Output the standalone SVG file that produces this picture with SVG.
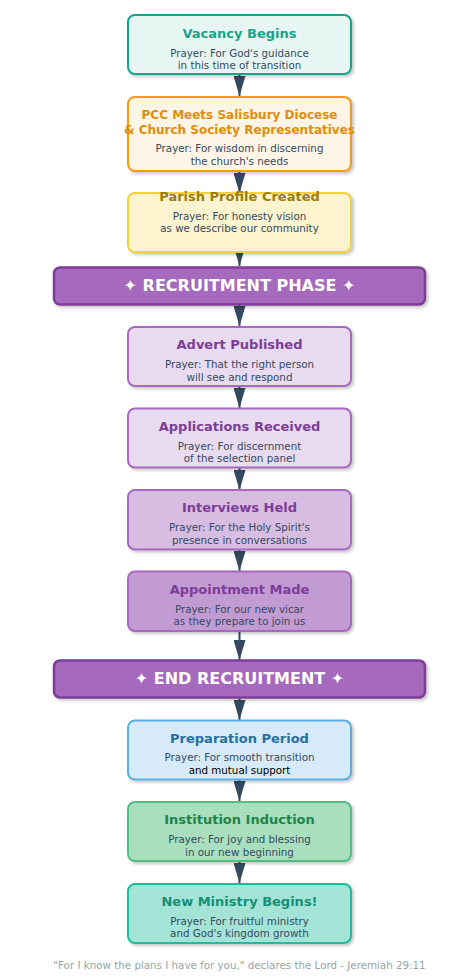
<svg xmlns="http://www.w3.org/2000/svg" width="466" height="978" viewBox="0 0 466 978">
<defs>
<filter id="sh" x="-10%" y="-10%" width="125%" height="140%">
<feDropShadow dx="2" dy="2" stdDeviation="1.8" flood-color="#000" flood-opacity="0.22"/>
</filter>
<marker id="ah" viewBox="0 0 20 12" refX="20" refY="6" markerWidth="10" markerHeight="6" markerUnits="strokeWidth" orient="auto">
<path d="M0,0 L20,6 L0,12 z" fill="#34495e"/>
</marker>
</defs>
<style>
text{font-family:"DejaVu Sans","Liberation Sans",sans-serif;text-anchor:middle}
.t{font-size:13px;font-weight:bold}
.t2{font-size:12px;font-weight:bold}
.p{font-size:10.3px;fill:#34495e}
.b{font-size:16px;font-weight:bold;fill:#ffffff}
.n{stroke-width:2}
.bar{fill:#a569bd;stroke:#7d3c98;stroke-width:2.5}
.c{stroke:#34495e;stroke-width:2;fill:none}
</style>
<g id="connectors">
<line class="c" x1="239.5" y1="74" x2="239.5" y2="96" marker-end="url(#ah)"/>
<line class="c" x1="239.5" y1="171" x2="239.5" y2="193" marker-end="url(#ah)"/>
<line class="c" x1="239.5" y1="238" x2="239.5" y2="266" marker-end="url(#ah)"/>
<line class="c" x1="239.5" y1="305" x2="239.5" y2="326" marker-end="url(#ah)"/>
<line class="c" x1="239.5" y1="386" x2="239.5" y2="408" marker-end="url(#ah)"/>
<line class="c" x1="239.5" y1="468" x2="239.5" y2="490" marker-end="url(#ah)"/>
<line class="c" x1="239.5" y1="550" x2="239.5" y2="571" marker-end="url(#ah)"/>
<line class="c" x1="239.5" y1="631" x2="239.5" y2="660" marker-end="url(#ah)"/>
<line class="c" x1="239.5" y1="698" x2="239.5" y2="720" marker-end="url(#ah)"/>
<line class="c" x1="239.5" y1="780" x2="239.5" y2="801" marker-end="url(#ah)"/>
<line class="c" x1="239.5" y1="861" x2="239.5" y2="883" marker-end="url(#ah)"/>
</g>
<g id="vacancy">
<rect class="n" x="128" y="15" width="223" height="59" rx="7" fill="#e8f6f3" stroke="#17a589" filter="url(#sh)"/>
<text class="t" x="239.5" y="38" fill="#17a589">Vacancy Begins</text>
<text class="p" x="239.5" y="56.5">Prayer: For God's guidance</text>
<text class="p" x="239.5" y="68.5">in this time of transition</text>
</g>
<g id="pcc">
<rect class="n" x="128" y="97" width="223" height="74" rx="7" fill="#fef5e7" stroke="#f39c12" filter="url(#sh)"/>
<text class="t2" x="239.5" y="119.3" fill="#e08e0b">PCC Meets Salisbury Diocese</text>
<text class="t2" x="239.5" y="133.6" fill="#e08e0b">&amp; Church Society Representatives</text>
<text class="p" x="239.5" y="152">Prayer: For wisdom in discerning</text>
<text class="p" x="239.5" y="165">the church's needs</text>
</g>
<g id="profile">
<rect class="n" x="128" y="193" width="223" height="59" rx="7" fill="#fcf3cf" stroke="#f4d03f" filter="url(#sh)"/>
<text class="t" x="239.5" y="200.5" fill="#9a7d0a">Parish Profile Created</text>
<text class="p" x="239.5" y="219.5">Prayer: For honesty vision</text>
<text class="p" x="239.5" y="232">as we describe our community</text>
</g>
<g id="recruitment">
<rect class="bar" x="54" y="267.5" width="371" height="37" rx="6" filter="url(#sh)"/>
<text class="b" x="239.5" y="291">✦ RECRUITMENT PHASE ✦</text>
</g>
<g id="advert">
<rect class="n" x="128" y="327" width="223" height="59" rx="7" fill="#e8daef" stroke="#a569bd" filter="url(#sh)"/>
<text class="t" x="239.5" y="349" fill="#7d3c98">Advert Published</text>
<text class="p" x="239.5" y="368">Prayer: That the right person</text>
<text class="p" x="239.5" y="380.5">will see and respond</text>
</g>
<g id="applications">
<rect class="n" x="128" y="408.5" width="223" height="59" rx="7" fill="#e8daef" stroke="#a569bd" filter="url(#sh)"/>
<text class="t" x="239.5" y="430.5" fill="#7d3c98">Applications Received</text>
<text class="p" x="239.5" y="450">Prayer: For discernment</text>
<text class="p" x="239.5" y="461.5">of the selection panel</text>
</g>
<g id="interviews">
<rect class="n" x="128" y="490" width="223" height="59.5" rx="7" fill="#d7bde2" stroke="#a569bd" filter="url(#sh)"/>
<text class="t" x="239.5" y="512" fill="#7d3c98">Interviews Held</text>
<text class="p" x="239.5" y="531">Prayer: For the Holy Spirit's</text>
<text class="p" x="239.5" y="544">presence in conversations</text>
</g>
<g id="appointment">
<rect class="n" x="128" y="571.5" width="223" height="59.5" rx="7" fill="#c39bd3" stroke="#a569bd" filter="url(#sh)"/>
<text class="t" x="239.5" y="594" fill="#7d3c98">Appointment Made</text>
<text class="p" x="239.5" y="613">Prayer: For our new vicar</text>
<text class="p" x="239.5" y="625">as they prepare to join us</text>
</g>
<g id="endrecruitment">
<rect class="bar" x="54" y="660.5" width="371" height="37" rx="6" filter="url(#sh)"/>
<text class="b" x="239.5" y="684">✦ END RECRUITMENT ✦</text>
</g>
<g id="preparation">
<rect class="n" x="128" y="720.5" width="223" height="59" rx="7" fill="#d6eaf8" stroke="#5dade2" filter="url(#sh)"/>
<text class="t" x="239.5" y="742.5" fill="#2471a3">Preparation Period</text>
<text class="p" x="239.5" y="761">Prayer: For smooth transition</text>
<text class="p" x="239.5" y="773.5" style="fill:#000000">and mutual support</text>
</g>
<g id="institution">
<rect class="n" x="128" y="802" width="223" height="59" rx="7" fill="#a9dfbf" stroke="#52be80" filter="url(#sh)"/>
<text class="t" x="239.5" y="824" fill="#1e8449">Institution Induction</text>
<text class="p" x="239.5" y="843">Prayer: For joy and blessing</text>
<text class="p" x="239.5" y="855.5">in our new beginning</text>
</g>
<g id="newministry">
<rect class="n" x="128" y="884" width="223" height="59" rx="7" fill="#a3e4d7" stroke="#1abc9c" filter="url(#sh)"/>
<text class="t" x="239.5" y="905.5" fill="#148f77">New Ministry Begins!</text>
<text class="p" x="239.5" y="924.5">Prayer: For fruitful ministry</text>
<text class="p" x="239.5" y="937">and God's kingdom growth</text>
</g>
<text x="239.5" y="968.5" style="font-size:10.3px;fill:#95a5a6">"For I know the plans I have for you," declares the Lord - Jeremiah 29:11</text>
</svg>
